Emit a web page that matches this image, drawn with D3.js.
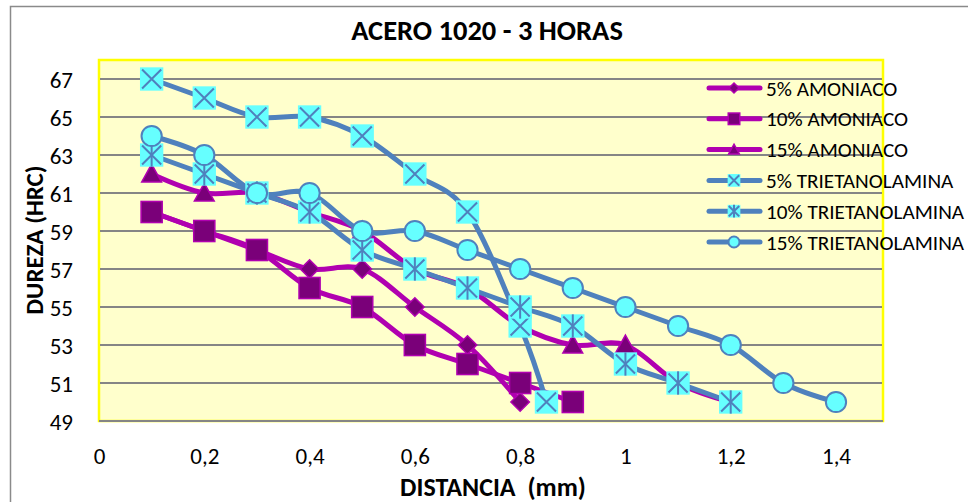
<!DOCTYPE html>
<html>
<head>
<meta charset="utf-8">
<script src="https://cdn.jsdelivr.net/npm/d3@7"></script>
<style>
  html, body { margin: 0; padding: 0; background: #ffffff; }
  svg { display: block; }
  text { font-family: Carlito, Calibri, Lato, sans-serif; fill: #000; white-space: pre; }
</style>
</head>
<body>
<svg id="chart" width="968" height="502"></svg>
<script>
// Hardness profile, AISI 1020 steel, 3 h treatment
const title = "ACERO 1020 - 3 HORAS";
const xTitle = "DISTANCIA  (mm)";
const yTitle = "DUREZA (HRC)";

const xTicks = [0, 0.2, 0.4, 0.6, 0.8, 1, 1.2, 1.4];
const yTicks = [49, 51, 53, 55, 57, 59, 61, 63, 65, 67];

const seriesNames = [
  "5% AMONIACO", "10% AMONIACO", "15% AMONIACO",
  "5% TRIETANOLAMINA", "10% TRIETANOLAMINA", "15% TRIETANOLAMINA"
];

// distance (mm) / hardness (HRC) per series
const amm5X  = [0.1, 0.2, 0.3, 0.4, 0.5, 0.6, 0.7, 0.8];
const amm5Y  = [60, 59, 58, 57, 57, 55, 53, 50];
const amm10X = [0.1, 0.2, 0.3, 0.4, 0.5, 0.6, 0.7, 0.8, 0.9];
const amm10Y = [60, 59, 58, 56, 55, 53, 52, 51, 50];
const amm15X = [0.1, 0.2, 0.3, 0.4, 0.5, 0.6, 0.7, 0.8, 0.9, 1.0, 1.1, 1.2];
const amm15Y = [62, 61, 61, 60, 59, 57, 56, 54, 53, 53, 51, 50];
const tea5X  = [0.1, 0.2, 0.3, 0.4, 0.5, 0.6, 0.7, 0.8, 0.85];
const tea5Y  = [67, 66, 65, 65, 64, 62, 60, 54, 50];
const tea10X = [0.1, 0.2, 0.3, 0.4, 0.5, 0.6, 0.7, 0.8, 0.9, 1.0, 1.1, 1.2];
const tea10Y = [63, 62, 61, 60, 58, 57, 56, 55, 54, 52, 51, 50];
const tea15X = [0.1, 0.2, 0.3, 0.4, 0.5, 0.6, 0.7, 0.8, 0.9, 1.0, 1.1, 1.2, 1.3, 1.4];
const tea15Y = [64, 63, 61, 61, 59, 59, 58, 57, 56, 55, 54, 53, 51, 50];

const MAG = "#B000B0", MAG_DARK = "#7A0079";
const BLUE = "#4F81BD", CYAN = "#66FFFF";

const series = [
  { name: seriesNames[0], xs: amm5X,  ys: amm5Y,  line: MAG,  shape: "diamond" },
  { name: seriesNames[1], xs: amm10X, ys: amm10Y, line: MAG,  shape: "square" },
  { name: seriesNames[2], xs: amm15X, ys: amm15Y, line: MAG,  shape: "triangle" },
  { name: seriesNames[3], xs: tea5X,  ys: tea5Y,  line: BLUE, shape: "xbox" },
  { name: seriesNames[4], xs: tea10X, ys: tea10Y, line: BLUE, shape: "starbox" },
  { name: seriesNames[5], xs: tea15X, ys: tea15Y, line: BLUE, shape: "circle" }
];

const svg = d3.select("#chart");
const W = 968, H = 502;
const plot = { left: 99, right: 883, top: 60, bottom: 421 };

const x = d3.scaleLinear().domain([0, 1.4]).range([plot.left, 836]);
const y = d3.scaleLinear().domain([49, 68]).range([plot.bottom, plot.top]);

// chart frame
svg.append("rect").attr("x", 10.5).attr("y", 6.5).attr("width", W).attr("height", H)
  .attr("fill", "#fff").attr("stroke", "#8a8a8a").attr("stroke-width", 1.5);

// plot area
svg.append("rect")
  .attr("x", plot.left).attr("y", plot.top)
  .attr("width", plot.right - plot.left).attr("height", plot.bottom - plot.top)
  .attr("fill", "#FFFFCC").attr("stroke", "#FFFF00").attr("stroke-width", 2.5);

// horizontal gridlines
svg.append("g").selectAll("line").data(yTicks.filter(d => d > 49)).join("line")
  .attr("x1", plot.left + 1).attr("x2", plot.right - 1)
  .attr("y1", d => y(d)).attr("y2", d => y(d))
  .attr("stroke", "#858585").attr("stroke-width", 1.8);

// bottom axis line
svg.append("line").attr("x1", plot.left).attr("x2", plot.right)
  .attr("y1", plot.bottom).attr("y2", plot.bottom)
  .attr("stroke", "#858585").attr("stroke-width", 2);

const fmt = d => String(d).replace(".", ",");

// y axis labels
const yAxis = d3.axisLeft(y).tickValues(yTicks).tickSize(0).tickPadding(0).tickFormat(d => d);
const gy = svg.append("g").attr("transform", `translate(73,0)`).call(yAxis);
gy.select(".domain").remove();
gy.selectAll("text").attr("font-size", 23).attr("font-family", null).attr("dy", "0.36em");

// x axis labels
const xAxis = d3.axisBottom(x).tickValues(xTicks).tickSize(0).tickPadding(0).tickFormat(fmt);
const gx = svg.append("g").attr("transform", `translate(0,448)`).call(xAxis);
gx.select(".domain").remove();
gx.selectAll("text").attr("font-size", 23).attr("font-family", null).attr("dy", "0.71em");

// titles
svg.append("text").attr("x", 487).attr("y", 40).attr("text-anchor", "middle")
  .attr("font-size", 28.5).attr("font-weight", "bold").text(title);
svg.append("text").attr("x", 493).attr("y", 496).attr("text-anchor", "middle")
  .attr("font-size", 26).attr("font-weight", "bold").text(xTitle);
svg.append("text").attr("transform", "translate(43,240) rotate(-90)").attr("text-anchor", "middle")
  .attr("font-size", 25).attr("font-weight", "bold").text(yTitle);

// markers
function drawMarker(g, shape, cx, cy, s) {
  if (shape === "diamond") {
    const r = s * 0.42;
    g.append("path").attr("d", `M${cx},${cy - r}L${cx + r},${cy}L${cx},${cy + r}L${cx - r},${cy}Z`)
      .attr("fill", MAG_DARK).attr("stroke", MAG).attr("stroke-width", 1.5);
  } else if (shape === "square") {
    const h = s * 0.48;
    g.append("rect").attr("x", cx - h).attr("y", cy - h).attr("width", 2 * h).attr("height", 2 * h)
      .attr("fill", MAG_DARK).attr("stroke", MAG).attr("stroke-width", 1.5);
  } else if (shape === "triangle") {
    const h = s * 0.45;
    g.append("path").attr("d", `M${cx},${cy - h}L${cx + h},${cy + h * 0.8}L${cx - h},${cy + h * 0.8}Z`)
      .attr("fill", MAG_DARK).attr("stroke", MAG).attr("stroke-width", 1.5);
  } else if (shape === "xbox" || shape === "starbox") {
    const h = s * 0.53;
    g.append("rect").attr("x", cx - h).attr("y", cy - h).attr("width", 2 * h).attr("height", 2 * h)
      .attr("fill", CYAN);
    const k = h * 0.82;
    g.append("path").attr("d", `M${cx - k},${cy - k}L${cx + k},${cy + k}M${cx - k},${cy + k}L${cx + k},${cy - k}`)
      .attr("stroke", BLUE).attr("stroke-width", 2);
    if (shape === "starbox") {
      g.append("path").attr("d", `M${cx},${cy - h}L${cx},${cy + h}`)
        .attr("stroke", BLUE).attr("stroke-width", 2);
    }
  } else if (shape === "circle") {
    g.append("circle").attr("cx", cx).attr("cy", cy).attr("r", s * 0.46)
      .attr("fill", CYAN).attr("stroke", BLUE).attr("stroke-width", 2);
  }
}

const line = d3.line().x(d => x(d[0])).y(d => y(d[1])).curve(d3.curveCardinal.tension(0));

// lines first, markers on top
const gLines = svg.append("g");
series.forEach(s => {
  const pts = s.xs.map((v, i) => [v, s.ys[i]]);
  gLines.append("path").attr("d", line(pts)).attr("fill", "none")
    .attr("stroke", s.line).attr("stroke-width", 5).attr("stroke-linejoin", "round").attr("stroke-linecap", "round");
});
const gMarks = svg.append("g");
series.forEach(s => {
  s.xs.forEach((v, i) => drawMarker(gMarks, s.shape, x(v), y(s.ys[i]), 22));
});

// legend
const legend = svg.append("g");
series.forEach((s, i) => {
  const ly = 88 + i * 30.8;
  legend.append("line").attr("x1", 709).attr("x2", 760).attr("y1", ly).attr("y2", ly)
    .attr("stroke", s.line).attr("stroke-width", 5).attr("stroke-linecap", "round");
  drawMarker(legend, s.shape, 734, ly, 12);
  legend.append("text").attr("x", 766).attr("y", ly).attr("dy", "0.36em")
    .attr("font-size", 21.2).text(s.name);
});
</script>
</body>
</html>
